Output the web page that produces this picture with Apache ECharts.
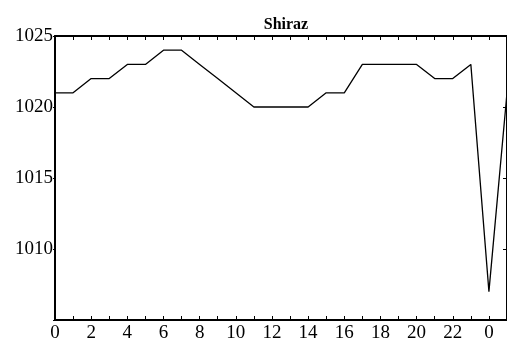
<!DOCTYPE html>
<html><head><meta charset="utf-8">
<script src="https://cdn.jsdelivr.net/npm/echarts@6/dist/echarts.min.js"></script>
<style>html,body{margin:0;padding:0;background:#fff}#c{width:507px;height:343px}</style>
</head><body><div id="c"></div>
<script>
var hours = ['0','1','2','3','4','5','6','7','8','9','10','11','12','13','14','15','16','17','18','19','20','21','22','23','0','1'];
var pressure = [1021,1021,1022,1022,1023,1023,1024,1024,1023,1022,1021,1020,1020,1020,1020,1021,1021,1023,1023,1023,1023,1022,1022,1023,1007,1021];
var yTicks = [1005,1010,1015,1020,1025];
var titleText = 'Shiraz';

var chart = echarts.init(document.getElementById('c'), null, {renderer:'canvas'});
var font = 'Liberation Serif';
var axisLine = {show:true, lineStyle:{color:'#000', width:2}};
chart.setOption({
  animation:false,
  backgroundColor:'#fff',
  title:{text:titleText, left:281, top:12, textAlign:'center',
    textStyle:{fontFamily:font, fontWeight:'bold', fontSize:16, color:'#000'}},
  grid:{left:55, top:36, right:0, bottom:20, containLabel:false},
  xAxis:[{type:'category', data:hours, boundaryGap:false, position:'bottom',
      axisLine:axisLine, axisTick:{show:true, inside:true, length:4, interval:0, lineStyle:{color:'#000'}},
      axisLabel:{interval:1, fontFamily:font, fontSize:19, color:'#000', margin:4}, splitLine:{show:false}},
    {type:'category', data:hours, boundaryGap:false, position:'top',
      axisLine:axisLine, axisTick:{show:true, inside:true, length:4, interval:0, lineStyle:{color:'#000'}},
      axisLabel:{show:false}, splitLine:{show:false}}],
  yAxis:[{type:'value', min:yTicks[0], max:yTicks[yTicks.length-1], interval:5, position:'left',
      axisLine:axisLine, axisTick:{show:true, inside:false, length:2, lineStyle:{color:'#000'}},
      axisLabel:{fontFamily:font, fontSize:19, color:'#000', margin:2,
        formatter:function(v){return v===yTicks[0]?'':String(v);}}, splitLine:{show:false}},
    {type:'value', min:yTicks[0], max:yTicks[yTicks.length-1], interval:5, position:'right',
      axisLine:axisLine, axisTick:{show:true, inside:true, length:4, lineStyle:{color:'#000'}},
      axisLabel:{show:false}, splitLine:{show:false}}],
  series:[{type:'line', data:pressure, xAxisIndex:0, yAxisIndex:0, symbol:'none',
    lineStyle:{color:'#000', width:1.3}}]
});
</script></body></html>
